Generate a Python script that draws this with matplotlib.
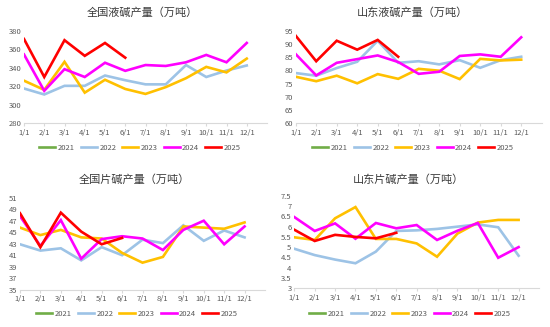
import numpy as np
import matplotlib.pyplot as plt

plt.rcParams['font.family'] = ['Noto Sans CJK SC', 'DejaVu Sans']

months = ['1/1', '2/1', '3/1', '4/1', '5/1', '6/1', '7/1', '8/1', '9/1', '10/1', '11/1', '12/1']
years = ['2021', '2022', '2023', '2024', '2025']
colors = ['#70AD47', '#9DC3E6', '#FFC000', '#FF00FF', '#FF0000']

# 全国液碱产量
qg_yj_2021 = []
qg_yj_2022 = [317.5, 311, 320.4, 320.4, 331.6, 326.5, 322, 322, 343, 330, 337, 342.5]
qg_yj_2023 = [326, 316, 346.5, 313, 327, 317, 311.6, 319, 328.7, 341, 335, 350]
qg_yj_2024 = [354.5, 315, 338.5, 330, 345.5, 336.7, 343, 342, 346, 354, 346, 367]
qg_yj_2025 = [371.3, 330, 370, 353, 367, 351]

# 山东液碱产量
sd_yj_2021 = []
sd_yj_2022 = [79, 78, 80.9, 83.3, 91.3, 82.9, 83.5, 82.3, 83.9, 81, 83.9, 85.2]
sd_yj_2023 = [77.6, 75.9, 78, 75.1, 78.6, 76.8, 80.6, 79.9, 76.7, 84.4, 83.8, 84.1]
sd_yj_2024 = [86.2, 78.1, 82.9, 84.3, 85.7, 83.2, 78.7, 79.5, 85.5, 86.1, 85.2, 92.6]
sd_yj_2025 = [93.2, 83.5, 91.3, 87.9, 91.6, 85.2]

# 全国片碱产量
qg_pj_2021 = []
qg_pj_2022 = [42.9, 41.8, 42.2, 40.1, 42.4, 41, 43.7, 43.1, 46.2, 43.5, 45.3, 44.1]
qg_pj_2023 = [45.8, 44.5, 45.4, 44.1, 43.9, 41.4, 39.7, 40.7, 46, 45.8, 45.6, 46.7]
qg_pj_2024 = [47.8, 42.6, 47.1, 40.4, 43.8, 44.3, 43.9, 41.9, 45.4, 47, 42.9, 46]
qg_pj_2025 = [48.3, 42.4, 48.4, 45.1, 42.9, 44.0]

# 山东片碱产量
sd_pj_2021 = []
sd_pj_2022 = [4.92, 4.61, 4.39, 4.21, 4.78, 5.79, 5.82, 5.89, 6.0, 6.11, 5.97, 4.58]
sd_pj_2023 = [5.48, 5.35, 6.41, 6.96, 5.4, 5.4, 5.18, 4.53, 5.66, 6.2, 6.33, 6.33]
sd_pj_2024 = [6.47, 5.79, 6.16, 5.41, 6.18, 5.92, 6.08, 5.35, 5.8, 6.18, 4.48, 5.0]
sd_pj_2025 = [5.85, 5.3, 5.6, 5.5, 5.43, 5.7]

W, H = 550, 327
fig = plt.figure(figsize=(W / 100, H / 100), dpi=100)


def panel(rect_px, title, series, yticks, title_xy, legend_xy):
    l, t, r, b = rect_px
    ax = fig.add_axes([l / W, 1 - b / H, (r - l) / W, (b - t) / H])
    x = np.arange(len(months))
    for name, vals, c in zip(years, series, colors):
        ax.plot(x[:len(vals)], vals, color=c, lw=1.9, label=name, solid_joinstyle='miter')
    ax.set_xlim(0, 12)
    ax.set_ylim(yticks[0], yticks[-1])
    ax.set_xticks(x)
    ax.set_xticklabels(months)
    ax.set_yticks(yticks)
    ax.set_yticklabels([('%g' % v) for v in yticks])
    for s in ['top', 'right', 'left']:
        ax.spines[s].set_visible(False)
    ax.spines['bottom'].set_color('#D9D9D9')
    ax.tick_params(axis='y', length=0, labelsize=5.5, labelcolor='#595959', pad=2)
    ax.tick_params(axis='x', length=2.5, color='#D9D9D9', labelsize=5.5, labelcolor='#595959', pad=1.5)
    fig.text(title_xy[0] / W, 1 - title_xy[1] / H, title, ha='center', va='center',
             fontsize=8, color='#3A3A3A', fontweight='medium')
    ax.legend(loc='center', bbox_to_anchor=(legend_xy[0] / W, 1 - legend_xy[1] / H),
              bbox_transform=fig.transFigure, ncol=5, frameon=False, fontsize=5.5,
              handlelength=2.1, columnspacing=0.8, handletextpad=0.3, labelcolor='#595959')
    return ax


panel((24, 31, 267, 123), '全国液碱产量（万吨）',
      [qg_yj_2021, qg_yj_2022, qg_yj_2023, qg_yj_2024, qg_yj_2025],
      [280, 300, 320, 340, 360, 380], (142, 13), (140, 148))
panel((295.7, 31, 541.7, 123), '山东液碱产量（万吨）',
      [sd_yj_2021, sd_yj_2022, sd_yj_2023, sd_yj_2024, sd_yj_2025],
      [60, 65, 70, 75, 80, 85, 90, 95], (412, 13), (413, 148))
panel((20, 197.7, 265, 289.7), '全国片碱产量（万吨）',
      [qg_pj_2021, qg_pj_2022, qg_pj_2023, qg_pj_2024, qg_pj_2025],
      [35, 37, 39, 41, 43, 45, 47, 49, 51], (134, 180), (137, 314))
panel((294.3, 196, 539, 288), '山东片碱产量（万吨）',
      [sd_pj_2021, sd_pj_2022, sd_pj_2023, sd_pj_2024, sd_pj_2025],
      [3, 3.5, 4, 4.5, 5, 5.5, 6, 6.5, 7, 7.5], (408, 180), (410, 314))

fig.savefig('out.png', dpi=100)
